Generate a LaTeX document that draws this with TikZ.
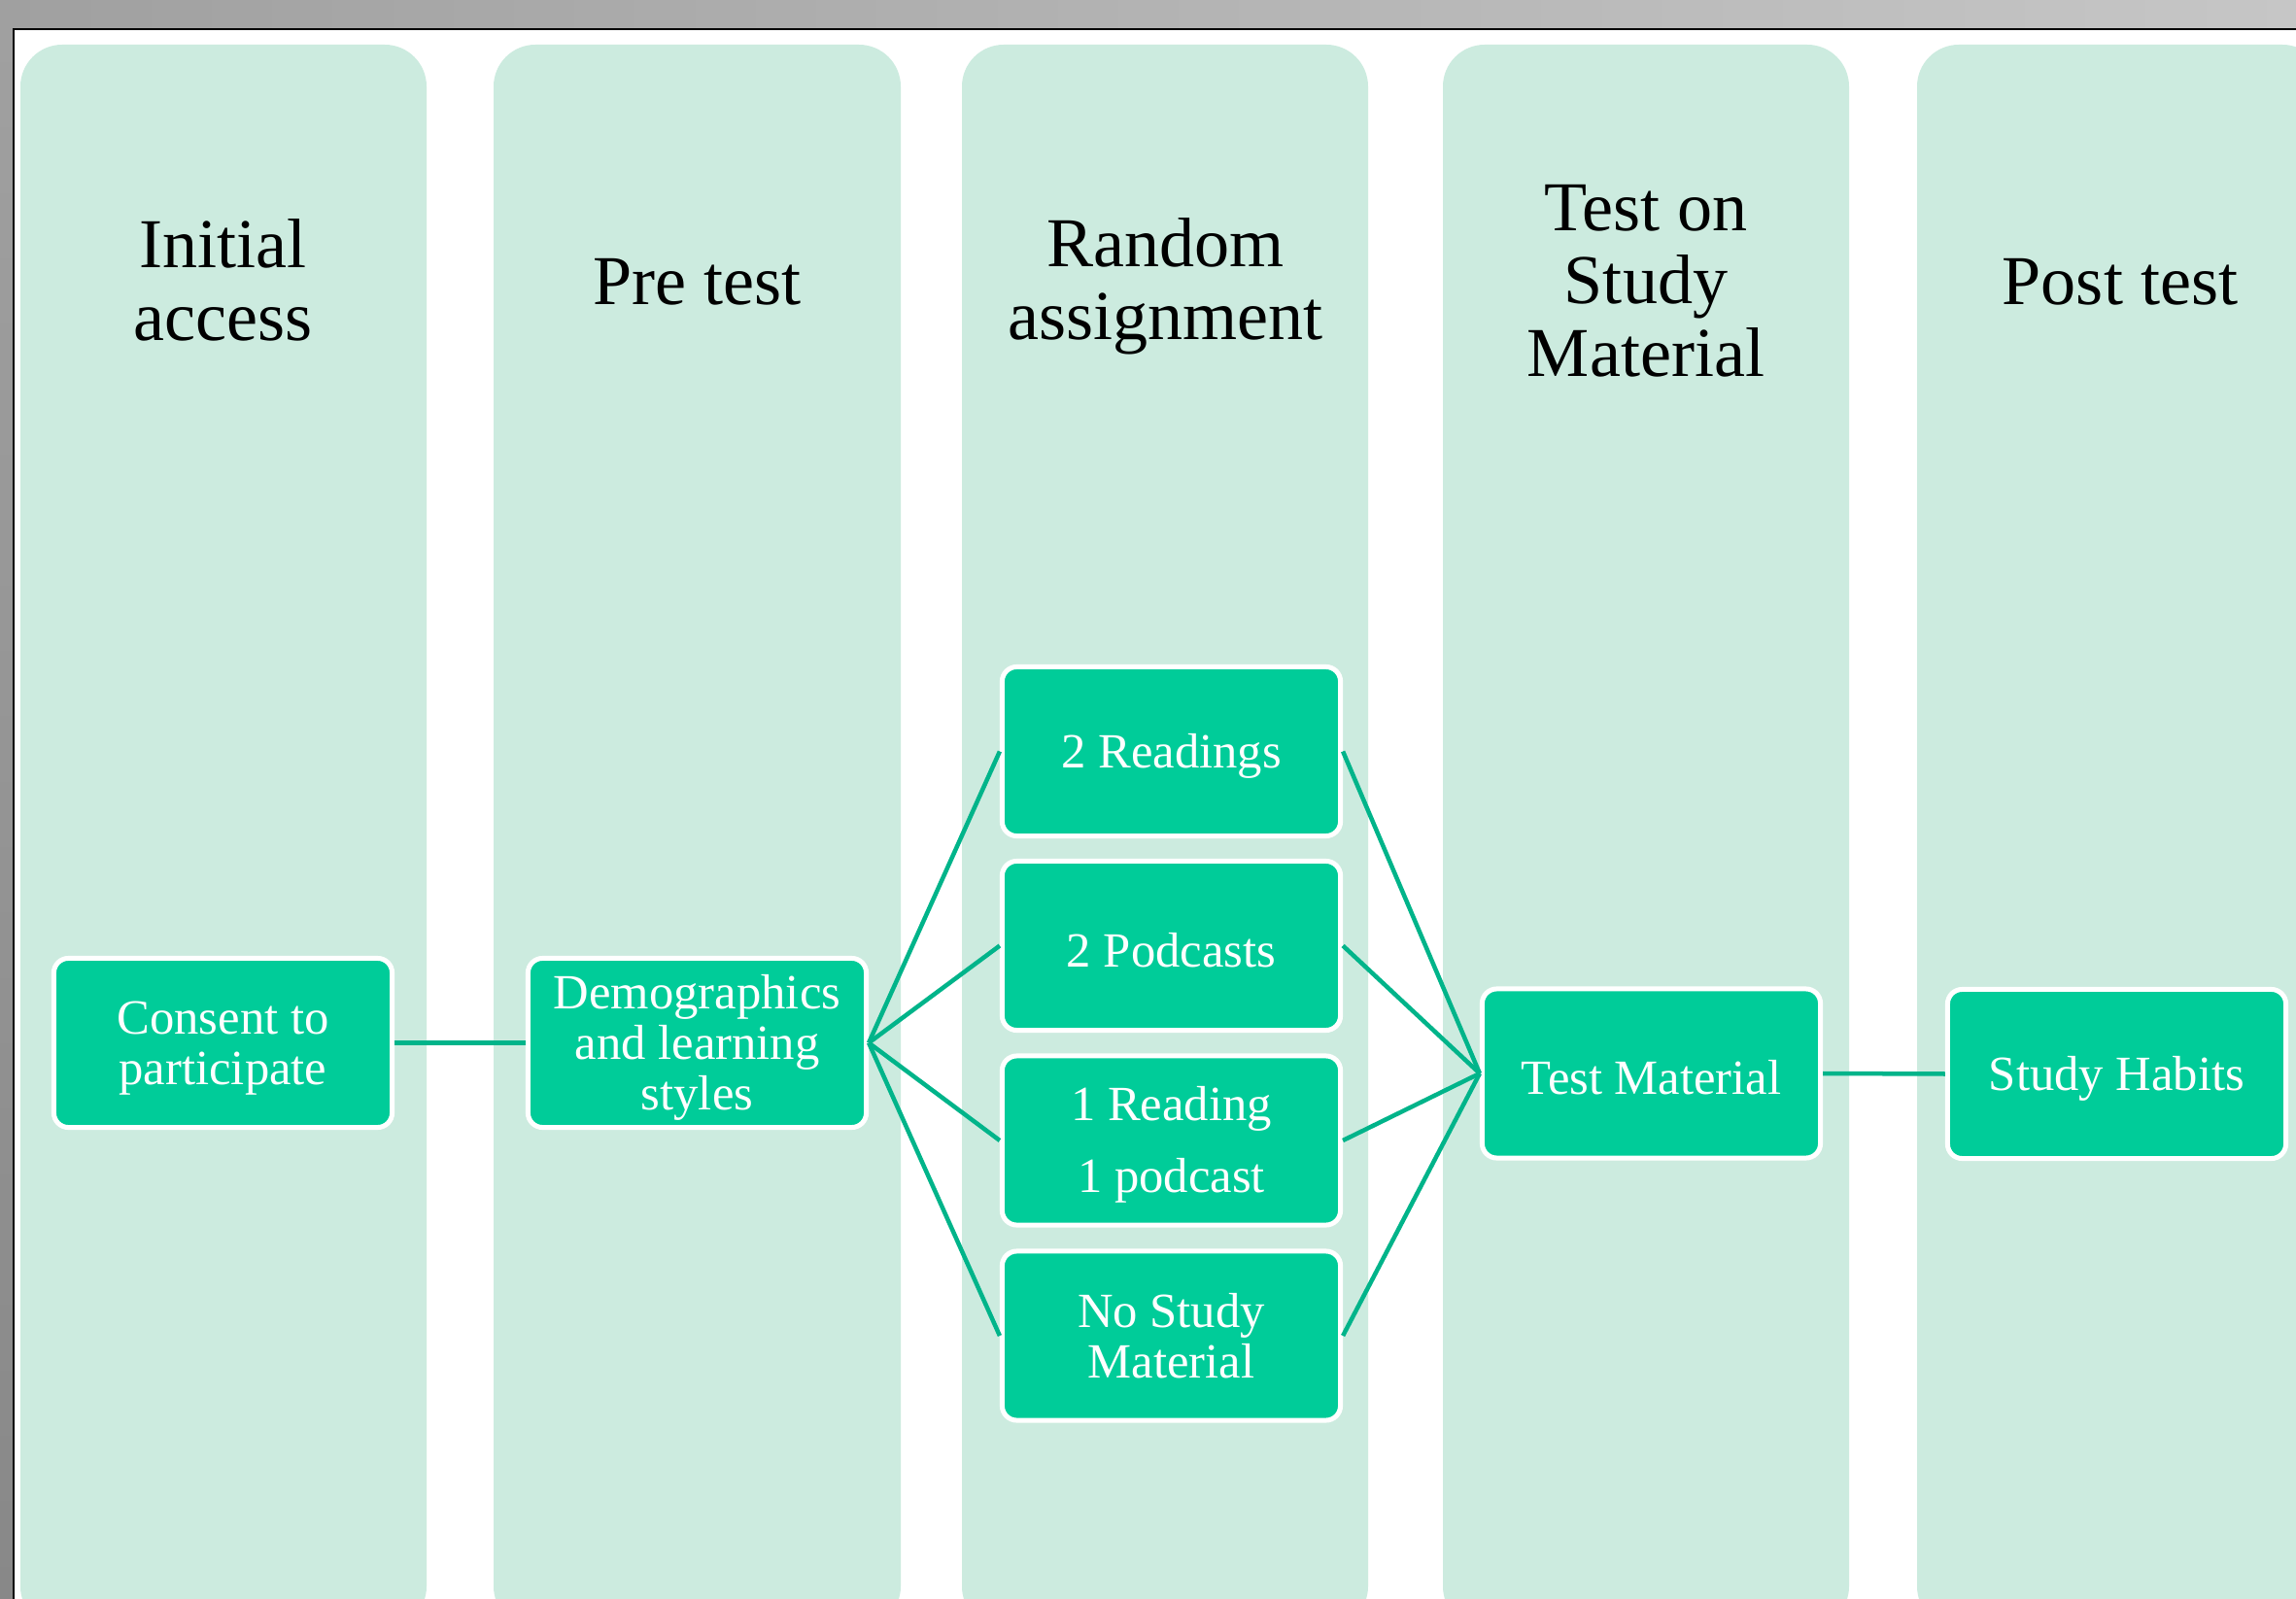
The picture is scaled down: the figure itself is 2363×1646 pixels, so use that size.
\documentclass[tikz,border=0pt]{standalone}
\usepackage{fontspec}
\setmainfont{Liberation Serif}
\definecolor{colbg}{RGB}{204,235,223}
\definecolor{boxfill}{RGB}{0,204,153}
\definecolor{linkcol}{RGB}{0,180,138}
\definecolor{grayL}{RGB}{160,160,160}
\definecolor{grayR}{RGB}{198,198,198}
\definecolor{grayB}{RGB}{136,136,136}
\newcommand{\tstrut}{\rule{0pt}{0.44cm}}
\begin{document}
\begin{tikzpicture}[x=0.01cm,y=-0.01cm,
  stepbox/.style={draw=white, line width=0.05cm, fill=boxfill, rounded corners=0.15cm,
    minimum width=3.48cm, minimum height=1.74cm, inner sep=0pt, align=center,
    text=white, font=\fontsize{14.4pt}{14.8pt}\selectfont},
  header/.style={align=center, inner sep=0pt, text=black,
    font=\fontsize{20.5pt}{21.3pt}\selectfont},
  link/.style={draw=linkcol, line width=0.045cm},
  colshape/.style={fill=colbg, rounded corners=0.43cm}]
\useasboundingbox (0,0) rectangle (2363,1646);
% screen frame
\fill[left color=grayL, right color=grayR] (0,0) rectangle (2363,30);
\fill[top color=grayL, bottom color=grayB] (0,30) rectangle (14,1646);
\fill[white] (14,30) rectangle (2363,1646);
\draw[black, line width=0.02cm] (14,1646) -- (14,30) -- (2363,30);
% columns
\foreach \xl/\xr in {21/439, 508/927, 990/1408, 1485/1903, 1973/2392}
  \fill[colshape] (\xl,46) rectangle (\xr,1676);
% headers
\node[header] (h1) at (229.5,288.5) {Initial\\access};
\node[header] (h2) at (717.5,290) {Pre test};
\node[header] (h3) at (1199.5,295) {Random\\assignment};
\node[header] (h4) at (1694,289.5) {Test on\\Study\\Material};
\node[header] (h5) at (2182,290) {Post test};
% boxes
\node[stepbox] (consent) at (229.5,1073.5) {\tstrut Consent to\\participate};
\node[stepbox] (demo) at (717.5,1073.5) {\tstrut Demographics\\and learning\\styles};
\node[stepbox] (read2) at (1205.5,773.5) {\tstrut 2 Readings};
\node[stepbox] (pod2) at (1205.5,973.5) {\tstrut 2 Podcasts};
\node[stepbox] (mixed) at (1205.5,1174) {\tstrut 1 Reading\\[0.22cm]1 podcast};
\node[stepbox] (none) at (1205.5,1375) {No Study\\Material};
\node[stepbox] (test) at (1699.5,1105) {\tstrut Test Material};
\node[stepbox] (habits) at (2178.5,1105.5) {\tstrut Study Habits};
% connectors
\draw[link] (consent.east) -- (demo.west);
\foreach \n in {read2,pod2,mixed,none} {
  \draw[link] (demo.east) -- (\n.west);
  \draw[link] (\n.east) -- (test.west);
}
\draw[link] (test.east) -- (habits.west);
\end{tikzpicture}
\end{document}
